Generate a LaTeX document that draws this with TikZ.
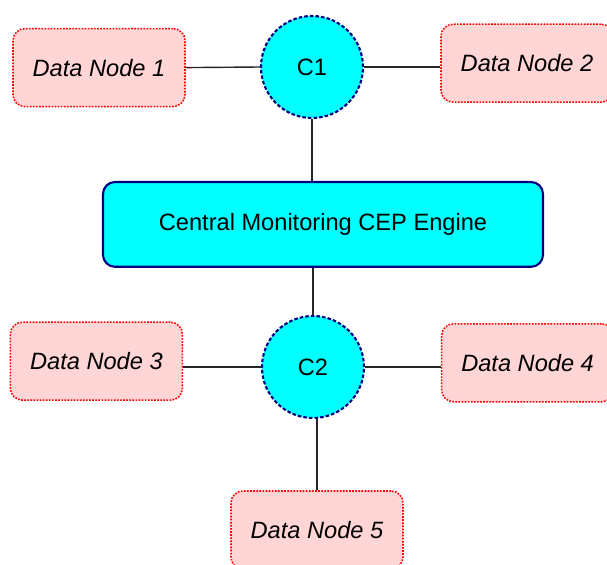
\documentclass[tikz,border=0pt]{standalone}
\usepackage{fontspec}
\setmainfont{Liberation Sans}
\usetikzlibrary{positioning}
\definecolor{datafill}{RGB}{255,213,213}
\definecolor{databorder}{RGB}{255,0,0}
\definecolor{hubfill}{RGB}{0,255,255}
\definecolor{hubborder}{RGB}{0,0,128}
\tikzset{
  datanode/.style = {draw=databorder, fill=datafill, line width=1.1pt, dash pattern=on 1.2pt off 1pt,
    rounded corners=0.3cm, minimum width=4.3cm, minimum height=1.95cm,
    font=\fontsize{16.8}{20}\selectfont\itshape},
  hub/.style = {circle, draw=hubborder, fill=hubfill, line width=1.5pt, dash pattern=on 2.5pt off 1.5pt,
    minimum size=2.55cm, inner sep=0pt, font=\fontsize{16.8}{20}\selectfont},
  engine/.style = {draw=hubborder, fill=hubfill, line width=1.5pt, rounded corners=0.3cm,
    minimum width=11cm, minimum height=2.12cm, font=\fontsize{16.8}{20}\selectfont},
  link/.style = {line width=1pt, black!85}
}

\begin{document}
\begin{tikzpicture}
  \useasboundingbox (0,0) rectangle (15.175,-14.125);
  % concentrators and engine
  \node[hub] (C1) at (7.8,-1.675) {C1};
  \node[engine] (E) at (8.075,-5.61) {Central Monitoring CEP Engine};
  \node[hub] (C2) at (7.825,-9.175) {C2};
  % data nodes
  \node[datanode] (D1) at (2.475,-1.69) {Data Node 1};
  \node[datanode] (D2) at (13.175,-1.58) {Data Node 2};
  \node[datanode] (D3) at (2.41,-9.03) {Data Node 3};
  \node[datanode] (D4) at (13.19,-9.07) {Data Node 4};
  \node[datanode] (D5) at (7.925,-13.25) {Data Node 5};
  % links
  \draw[link] (D1.east) -- (C1.west);
  \draw[link] (C1.east) -- (C1.east -| D2.west);
  \draw[link] (C1.south) -- (C1.south |- E.north);
  \draw[link] (C2.north |- E.south) -- (C2.north);
  \draw[link] (C2.west) -- (C2.west -| D3.east);
  \draw[link] (C2.east) -- (C2.east -| D4.west);
  \draw[link] (C2.south -| D5.north) -- (D5.north);
\end{tikzpicture}
\end{document}
